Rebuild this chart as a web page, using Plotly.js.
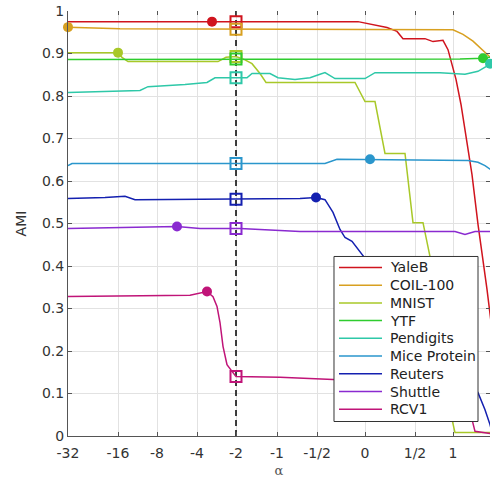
<!DOCTYPE html>
<html>
<head>
<meta charset="utf-8">
<script src="https://cdn.plot.ly/plotly-3.0.1.min.js"></script>
<style>html,body{margin:0;padding:0;background:#fff;}#chart{width:492px;height:478px;}</style>
</head>
<body>
<div id="chart"></div>
<script>
// x axis: tick positions (axis units) and their alpha labels
const tickPos = [0, 1.25, 2.225, 3.225, 4.2, 5.225, 6.225, 7.425, 8.675, 9.625, 10.55];
const tickLabels = ['-32', '-16', '-8', '-4', '-2', '-1', '-1/2', '0', '1/2', '1', '2'];
const yTicks = [0, 0.1, 0.2, 0.3, 0.4, 0.5, 0.6, 0.7, 0.8, 0.9, 1];
const yTickLabels = ['0', '0.1', '0.2', '0.3', '0.4', '0.5', '0.6', '0.7', '0.8', '0.9', '1'];
const refAlpha = 4.2; // alpha = -2

const names = ['YaleB', 'COIL-100', 'MNIST', 'YTF', 'Pendigits', 'Mice Protein', 'Reuters', 'Shuttle', 'RCV1'];
const colors = ['#d0141e', '#d8a020', '#a8c828', '#2ecc2e', '#2ec8a8', '#2a96cc', '#1420b0', '#8a2ad0', '#c01478'];

const yalebX = [0, 7.25, 7.975, 8.225, 8.375, 8.925, 9.125, 9.375, 9.5, 9.6, 9.7, 9.825, 9.95, 10.1, 10.25, 10.375, 10.475, 10.6];
const yalebY = [0.975, 0.975, 0.961, 0.952, 0.935, 0.935, 0.928, 0.931, 0.909, 0.874, 0.839, 0.78, 0.709, 0.615, 0.498, 0.415, 0.345, 0.25];

const coilX = [0, 1.3, 9.625, 9.875, 10.125, 10.35, 10.55, 10.675];
const coilY = [0.962, 0.958, 0.956, 0.945, 0.929, 0.909, 0.893, 0.881];

const mnistX = [0, 1.25, 1.35, 1.5, 3.75, 3.95, 4.2, 4.4, 4.6, 4.8, 4.95, 7.175, 7.425, 7.675, 7.925, 8.425, 8.625, 8.875, 9.05, 9.25, 9.45, 9.6, 9.675, 10.6];
const mnistY = [0.902, 0.902, 0.891, 0.881, 0.881, 0.891, 0.893, 0.886, 0.876, 0.853, 0.832, 0.832, 0.787, 0.787, 0.665, 0.665, 0.502, 0.502, 0.422, 0.321, 0.156, 0.039, 0.008, 0.008];

const ytfX = [0, 4.2, 9.8, 10.375, 10.6];
const ytfY = [0.886, 0.887, 0.887, 0.889, 0.892];

const pendX = [0, 1.8, 2.0, 2.925, 3.475, 3.675, 4.475, 4.6, 5.05, 5.25, 5.675, 6.05, 6.3, 6.425, 6.675, 7.425, 7.675, 9.3, 9.925, 10.25, 10.45, 10.6];
const pendY = [0.808, 0.813, 0.822, 0.827, 0.832, 0.843, 0.843, 0.853, 0.853, 0.843, 0.839, 0.843, 0.851, 0.855, 0.841, 0.841, 0.855, 0.855, 0.851, 0.858, 0.869, 0.879];

const miceX = [0, 0.1, 6.425, 6.725, 10.0, 10.25, 10.425, 10.6];
const miceY = [0.636, 0.641, 0.641, 0.651, 0.648, 0.644, 0.636, 0.625];

const reutX = [0, 0.925, 1.425, 1.675, 5.8, 6.2, 6.425, 6.625, 6.8, 6.925, 7.1, 7.3, 7.45, 7.8, 8.3, 9.05, 9.8, 10.25, 10.425, 10.55, 10.625];
const reutY = [0.559, 0.561, 0.564, 0.556, 0.559, 0.561, 0.556, 0.526, 0.486, 0.467, 0.458, 0.432, 0.415, 0.356, 0.293, 0.227, 0.168, 0.102, 0.062, 0.027, 0.001];

const shutX = [0, 2.05, 2.725, 3.3, 4.3, 5.8, 9.675, 9.925, 10.175, 10.6];
const shutY = [0.488, 0.491, 0.493, 0.488, 0.488, 0.481, 0.481, 0.474, 0.481, 0.481];

const rcvX = [0, 3.05, 3.475, 3.625, 3.725, 3.8, 3.875, 3.975, 4.1, 4.2, 5.3, 6.625, 8.8, 9.425, 9.75, 9.95, 10.1, 10.175, 10.55];
const rcvY = [0.328, 0.331, 0.34, 0.328, 0.305, 0.267, 0.211, 0.168, 0.152, 0.14, 0.138, 0.133, 0.128, 0.119, 0.098, 0.067, 0.039, 0.011, 0.006];

// best points (filled circles) and values at alpha = -2 (open squares)
const bestX = [3.6, 0, 1.25, 10.375, 10.55, 7.55, 6.2, 2.725, 3.475];
const bestY = [0.975, 0.962, 0.902, 0.889, 0.876, 0.651, 0.561, 0.493, 0.34];
const refY = [0.975, 0.957, 0.893, 0.887, 0.843, 0.641, 0.557, 0.488, 0.14];

const seriesX = [yalebX, coilX, mnistX, ytfX, pendX, miceX, reutX, shutX, rcvX];
const seriesY = [yalebY, coilY, mnistY, ytfY, pendY, miceY, reutY, shutY, rcvY];

const traces = [];
// dashed reference line
traces.push({x: [refAlpha, refAlpha], y: [0, 1], mode: 'lines', showlegend: false,
  line: {color: '#000', width: 1.5, dash: '6px,4px'}, hoverinfo: 'skip'});
for (let i = 0; i < names.length; i++) {
  traces.push({x: seriesX[i], y: seriesY[i], mode: 'lines', name: names[i], showlegend: false,
    line: {color: colors[i], width: 1.5}});
}
for (let i = 0; i < names.length; i++) {
  traces.push({x: [bestX[i]], y: [bestY[i]], mode: 'markers', showlegend: false, cliponaxis: false,
    marker: {symbol: 'circle', size: 10, color: colors[i]}});
  traces.push({x: [refAlpha], y: [refY[i]], mode: 'markers', showlegend: false, cliponaxis: false,
    marker: {symbol: 'square-open', size: 11, color: colors[i], line: {width: 2, color: colors[i]}}});
}
// dummy trace to activate the mirrored tick axes
traces.push({x: [0], y: [0], xaxis: 'x2', yaxis: 'y2', mode: 'markers', marker: {opacity: 0}, showlegend: false, hoverinfo: 'skip'});

// legend box (paper coordinates of the plot area)
const legBox = {x0: 0.6303, x1: 0.9716, y0: 0.0341, y1: 0.4224};
const legRow0 = 0.3966, legRowStep = 0.0417;
const legLine = {x0: 0.6422, x1: 0.7441}, legTextX = 0.7583;
const shapes = [{type: 'rect', xref: 'paper', yref: 'paper', layer: 'above',
  x0: legBox.x0, x1: legBox.x1, y0: legBox.y0, y1: legBox.y1,
  fillcolor: '#fff', line: {color: '#333', width: 1}}];
const annotations = [];
names.forEach((n, i) => {
  const yy = legRow0 - i * legRowStep;
  shapes.push({type: 'line', xref: 'paper', yref: 'paper', layer: 'above',
    x0: legLine.x0, x1: legLine.x1, y0: yy, y1: yy, line: {color: colors[i], width: 1.5}});
  annotations.push({xref: 'paper', yref: 'paper', x: legTextX, y: yy, xanchor: 'left', yanchor: 'middle',
    text: n, showarrow: false, font: {family: 'DejaVu Sans, sans-serif', size: 14, color: '#222'}});
});

const layout = {
  width: 492, height: 478,
  margin: {l: 68, r: 2, t: 11, b: 42},
  paper_bgcolor: '#fff', plot_bgcolor: '#fff',
  font: {family: 'DejaVu Sans, sans-serif', size: 14, color: '#333'},
  showlegend: false,
  hovermode: false,
  shapes: shapes,
  annotations: annotations,
  xaxis: {
    range: [0, 10.55], tickmode: 'array', tickvals: tickPos, ticktext: tickLabels,
    ticks: 'inside', ticklen: 4, tickcolor: '#555', showline: true, linecolor: '#555', linewidth: 1,
    showgrid: true, gridcolor: '#e2e2e2', zeroline: false, ticklabelstandoff: 4,
    tickfont: {family: 'DejaVu Sans, sans-serif', size: 14, color: '#333'},
    title: {text: 'α', font: {family: 'DejaVu Serif, serif', size: 13, color: '#555'}, standoff: 6}
  },
  xaxis2: {
    overlaying: 'x', side: 'top', matches: 'x', range: [0, 10.55], tickmode: 'array', tickvals: tickPos,
    showticklabels: false, ticks: 'inside', ticklen: 4, tickcolor: '#555', showgrid: false, showline: false, zeroline: false
  },
  yaxis: {
    range: [0, 1], tickmode: 'array', tickvals: yTicks, ticktext: yTickLabels,
    ticks: 'inside', ticklen: 4, tickcolor: '#555', showline: true, linecolor: '#555', linewidth: 1,
    showgrid: true, gridcolor: '#e2e2e2', zeroline: false,
    tickfont: {family: 'DejaVu Sans, sans-serif', size: 14, color: '#333'},
    title: {text: 'AMI', font: {family: 'DejaVu Sans, sans-serif', size: 14, color: '#333'}, standoff: 12}
  },
  yaxis2: {
    overlaying: 'y', side: 'right', range: [0, 1], tickmode: 'array', tickvals: yTicks,
    showticklabels: false, ticks: 'inside', ticklen: 4, tickcolor: '#555', showgrid: false, showline: false, zeroline: false
  }
};

Plotly.newPlot('chart', traces, layout, {displayModeBar: false, staticPlot: true});
</script>
</body>
</html>
